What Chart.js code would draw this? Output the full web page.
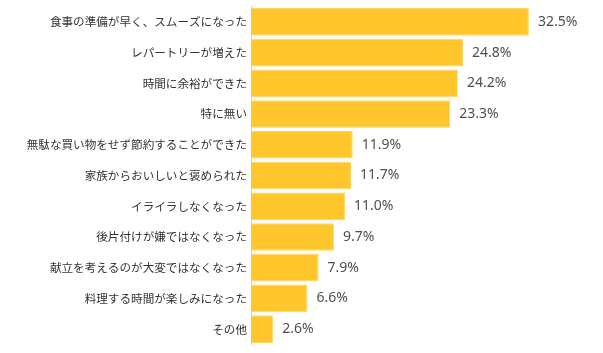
<!DOCTYPE html>
<html>
<head>
<meta charset="utf-8">
<script src="https://cdn.jsdelivr.net/npm/chart.js@4"></script>
<style>
  html, body { margin: 0; padding: 0; background: #fff; }
  #wrap { width: 603px; height: 353px; }
</style>
</head>
<body>
<div id="wrap"><canvas id="graphBar"></canvas></div>
<script>
// categories and values (%)
var labels = [
  "食事の準備が早く、スムーズになった",
  "レパートリーが増えた",
  "時間に余裕ができた",
  "特に無い",
  "無駄な買い物をせず節約することができた",
  "家族からおいしいと褒められた",
  "イライラしなくなった",
  "後片付けが嫌ではなくなった",
  "献立を考えるのが大変ではなくなった",
  "料理する時間が楽しみになった",
  "その他"
];
var values = [32.5, 24.8, 24.2, 23.3, 11.9, 11.7, 11.0, 9.7, 7.9, 6.6, 2.6];

// value labels at the end of each bar
const valueLabels = {
  id: 'valueLabels',
  afterDatasetsDraw(chart) {
    const ctx = chart.ctx;
    const meta = chart.getDatasetMeta(0);
    ctx.save();
    ctx.font = '14px "Noto Sans", sans-serif';
    ctx.fillStyle = '#505050';
    ctx.textBaseline = 'middle';
    ctx.textAlign = 'left';
    meta.data.forEach((bar, i) => {
      ctx.fillText(values[i].toFixed(1) + '%', bar.x + 9, bar.y);
    });
    ctx.restore();
  }
};

const ctx = document.getElementById('graphBar');
new Chart(ctx, {
  type: 'bar',
  data: {
    labels: labels,
    datasets: [{
      data: values,
      backgroundColor: '#ffc72c',
      borderColor: '#ffd560',
      borderWidth: 1,
      categoryPercentage: 0.9,
      barPercentage: 1
    }]
  },
  options: {
    indexAxis: 'y',
    responsive: true,
    maintainAspectRatio: false,
    animation: false,
    layout: { padding: { top: 6.5, bottom: 8.5, right: 10, left: 0 } },
    plugins: {
      legend: { display: false },
      tooltip: { enabled: false }
    },
    scales: {
      x: {
        display: false,
        min: 0,
        max: 40
      },
      y: {
        grid: { display: false, drawTicks: false },
        border: { display: true, color: '#d0d0d0', width: 1 },
        ticks: {
          padding: 4,
          color: '#333',
          font: { family: '"Noto Sans CJK JP", "Noto Sans", sans-serif', size: 11.6 }
        },
        afterFit(scale) {
          scale.width = 251;
          // no extra room for half label heights
          scale.paddingTop = 0;
          scale.paddingBottom = 0;
        }
      }
    }
  },
  plugins: [valueLabels]
});
</script>
</body>
</html>
